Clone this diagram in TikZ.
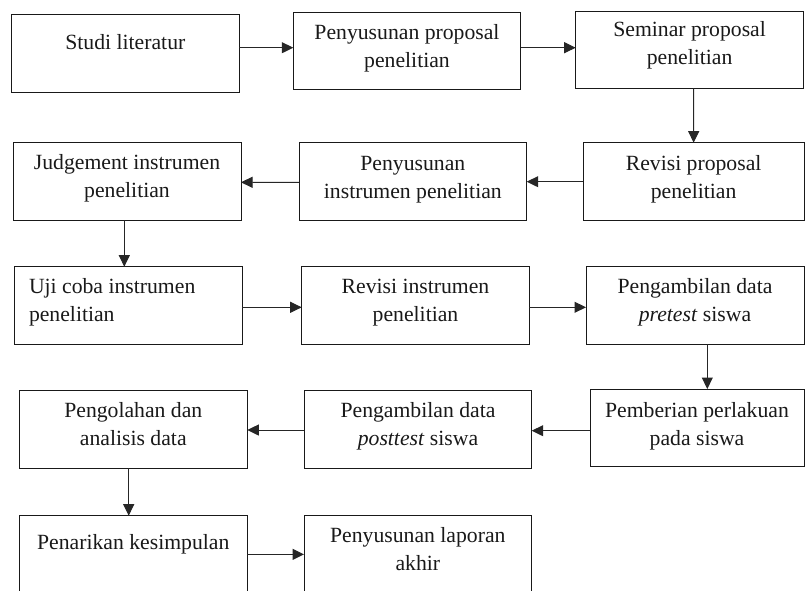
\documentclass[tikz,border=0pt]{standalone}
\usepackage{fontspec}
\setmainfont{Liberation Serif}
\usetikzlibrary{arrows.meta}
\tikzset{
  box/.style={draw=black!90, line width=1pt, inner sep=0pt, outer sep=0pt, anchor=north west, font=\fontsize{21.7}{28}\selectfont, text=black!90},
  arr/.style={draw=black!85, line width=1pt, -{Triangle[length=11.5pt,width=11pt]}}
}
% name, left, top, width, height, first-baseline offset, text
\newcommand{\bx}[7]{\node[box] (#1) at (#2,#3) {\parbox[c][#5pt][t]{#4pt}{\centering\rule{0pt}{#6pt}#7\par}};}
\begin{document}
\begin{tikzpicture}[x=1pt,y=-1pt]
\useasboundingbox (0,0) rectangle (805,590);
\clip (0,0) rectangle (805,590);
% row 1
\bx{A}{11.7}{14.5}{227.3}{77.8}{35}{Studi literatur}
\bx{B}{293.3}{12.3}{227.4}{77}{26.7}{Penyusunan proposal\\penelitian}
\bx{C}{575.7}{11}{227.8}{77.3}{25.7}{Seminar proposal\\penelitian}
% row 2
\bx{J}{13}{142.3}{228}{77.7}{26.7}{Judgement instrumen\\penelitian}
\bx{PI}{299}{142.7}{227.7}{78}{27.3}{Penyusunan\\instrumen penelitian}
\bx{D}{583.3}{142.7}{220.7}{78}{27.3}{Revisi proposal\\penelitian}
% row 3
\node[box] (U) at (14,266.7) {\parbox[c][77.3pt][t]{228pt}{\raggedright\leftskip=15pt\rule{0pt}{26.6pt}Uji coba instrumen\\penelitian\par}};
\bx{RI}{301.7}{266.7}{227.6}{77.3}{26.6}{Revisi instrumen\\penelitian}
\bx{PR}{586}{266.7}{218}{77.3}{26.6}{Pengambilan data\\\textit{pretest} siswa}
% row 4
\bx{PO}{19.3}{390}{228}{78.3}{27.7}{Pengolahan dan\\analisis data}
\bx{PT}{304.3}{390}{227.4}{78.3}{27.7}{Pengambilan data\\\textit{posttest} siswa}
\bx{PP}{590}{389}{214}{77.7}{28.5}{Pemberian perlakuan\\pada siswa}
% row 5
\bx{PK}{19.3}{515.7}{228}{77.3}{34}{Penarikan kesimpulan}
\bx{PL}{304}{515.7}{227.7}{77.3}{26.6}{Penyusunan laporan\\akhir}
% connectors
\draw[arr] ([yshift=5.7pt]A.east) -- ([yshift=3.1pt]B.west);
\draw[arr] ([yshift=3.1pt]B.east) -- ([yshift=1.95pt]C.west);
\draw[arr] ([xshift=4.1pt]C.south) -- (D.north);
\draw[arr] (D.west) -- (PI.east);
\draw[arr] ([yshift=-0.6pt]PI.west) -- ([yshift=-1.15pt]J.east);
\draw[arr] ([xshift=-2.7pt]J.south) -- ([xshift=-3.7pt]U.north);
\draw[arr] ([yshift=-1.95pt]U.east) -- ([yshift=-1.95pt]RI.west);
\draw[arr] ([yshift=-1.95pt]RI.east) -- ([yshift=-1.95pt]PR.west);
\draw[arr] ([xshift=12.3pt]PR.south) -- ([xshift=10.3pt]PP.north);
\draw[arr] ([yshift=-2.85pt]PP.west) -- ([yshift=-1.55pt]PT.east);
\draw[arr] ([yshift=-0.85pt]PT.west) -- ([yshift=-0.85pt]PO.east);
\draw[arr] ([xshift=-4.6pt]PO.south) -- ([xshift=-4.6pt]PK.north);
\draw[arr] (PK.east) -- (PL.west);
\end{tikzpicture}
\end{document}
